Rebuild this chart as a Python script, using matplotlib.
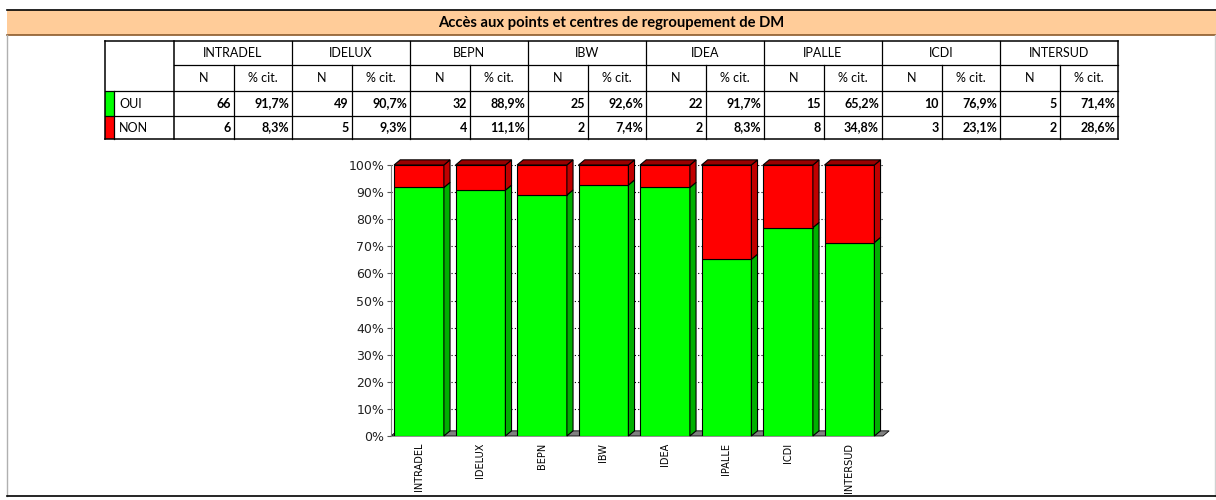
import matplotlib
matplotlib.use("Agg")
import matplotlib.pyplot as plt
from matplotlib.patches import Rectangle, Polygon

# donnees du tableau
categories = ["INTRADEL", "IDELUX", "BEPN", "IBW", "IDEA", "IPALLE", "ICDI", "INTERSUD"]
oui_n = [66, 49, 32, 25, 22, 15, 10, 5]
non_n = [6, 5, 4, 2, 2, 8, 3, 2]
oui_pct = [91.7, 90.7, 88.9, 92.6, 91.7, 65.2, 76.9, 71.4]
non_pct = [8.3, 9.3, 11.1, 7.4, 8.3, 34.8, 23.1, 28.6]
titre = "Accès aux points et centres de regroupement de DM"

W, H = 1216, 500
fig = plt.figure(figsize=(W / 100, H / 100), dpi=100)
fig.patch.set_facecolor("white")

# fond en coordonnees pixels
bg = fig.add_axes([0, 0, 1, 1])
bg.set_xlim(0, W)
bg.set_ylim(H, 0)
bg.axis("off")

# bandeau du titre
bg.add_patch(Rectangle((7, 9.5), W - 7, 25.5, facecolor="#FFCC99", edgecolor="none"))
bg.plot([7, W], [9.5, 9.5], color="black", lw=1.2)
bg.plot([7, W], [35, 35], color="#8B5A2B", lw=1.2)
bg.text((7 + W) / 2, 22.5, titre, ha="center", va="center", fontsize=10.6,
        fontweight="bold", family="Lato")

# cadre
bg.plot([7, 7], [35, 496], color="#B0B0B0", lw=1)
bg.plot([1215, 1215], [35, 496], color="#D0D0D0", lw=1)
bg.plot([7, W], [496, 496], color="black", lw=1.2)

# tableau
tx0, lab_w, grp_w = 105, 69, 118
rows_y = [41, 65, 91, 116, 139]
n_w = 60
tx1 = tx0 + lab_w + grp_w * len(categories)
lc = "black"

# lignes horizontales
bg.plot([tx0, tx1], [rows_y[0], rows_y[0]], color=lc, lw=1.1)
bg.plot([tx0 + lab_w, tx1], [rows_y[1], rows_y[1]], color=lc, lw=0.9)
for yy in rows_y[2:4]:
    bg.plot([tx0, tx1], [yy, yy], color=lc, lw=0.9)
bg.plot([tx0, tx1], [rows_y[4], rows_y[4]], color=lc, lw=1.1)
# lignes verticales
bg.plot([tx0, tx0], [rows_y[0], rows_y[4]], color=lc, lw=1.1)
for k in range(len(categories) + 1):
    xx = tx0 + lab_w + k * grp_w
    bg.plot([xx, xx], [rows_y[0], rows_y[4]], color=lc, lw=1.1 if k in (0, len(categories)) else 0.9)
    if k < len(categories):
        bg.plot([xx + n_w, xx + n_w], [rows_y[1], rows_y[4]], color=lc, lw=0.9)

# pastilles couleur
bg.add_patch(Rectangle((tx0, rows_y[2]), 9, rows_y[3] - rows_y[2], facecolor="#00FF00", edgecolor="none"))
bg.add_patch(Rectangle((tx0, rows_y[3]), 9, rows_y[4] - rows_y[3], facecolor="#FF0000", edgecolor="none"))
bg.plot([tx0 + 9, tx0 + 9], [rows_y[2], rows_y[4]], color=lc, lw=0.9)

fs = 9
bg.text(tx0 + 14, (rows_y[2] + rows_y[3]) / 2, "OUI", va="center", fontsize=fs, family="Lato")
bg.text(tx0 + 14, (rows_y[3] + rows_y[4]) / 2, "NON", va="center", fontsize=fs, family="Lato")

for k, cat in enumerate(categories):
    gx = tx0 + lab_w + k * grp_w
    bg.text(gx + grp_w / 2, (rows_y[0] + rows_y[1]) / 2, cat, ha="center", va="center",
            fontsize=fs, family="Lato")
    bg.text(gx + n_w / 2, (rows_y[1] + rows_y[2]) / 2, "N", ha="center", va="center",
            fontsize=fs, family="Lato")
    bg.text(gx + n_w + (grp_w - n_w) / 2, (rows_y[1] + rows_y[2]) / 2, "% cit.", ha="center",
            va="center", fontsize=fs, family="Lato")
    for r, (nv, pv) in enumerate([(oui_n[k], oui_pct[k]), (non_n[k], non_pct[k])]):
        yc = (rows_y[2 + r] + rows_y[3 + r]) / 2
        bg.text(gx + n_w - 3, yc, str(nv), ha="right", va="center", fontsize=fs,
                fontweight="bold", family="Lato")
        bg.text(gx + grp_w - 3, yc, f"{pv:.1f}%".replace(".", ","), ha="right", va="center",
                fontsize=fs, fontweight="bold", family="Lato")

# graphique empile en pseudo 3D
ax = fig.add_axes([391 / W, (H - 436) / H, 492 / W, 271 / H])
ax.set_facecolor("none")
ax.set_xlim(-0.5, len(categories) - 0.5)
ax.set_ylim(0, 100)

dx, dy = 0.10, 1.9
bw = 0.81
for yv in range(10, 101, 10):
    ax.plot([-0.5, len(categories) - 0.5 + dx], [yv, yv], color="black", lw=0.8,
            linestyle=(0, (1, 2)), zorder=1)

# sol
ax.add_patch(Polygon([(-0.5, 0), (len(categories) - 0.5, 0),
                      (len(categories) - 0.5 + dx, dy), (-0.5 + dx, dy)],
                     closed=True, facecolor="#808080", edgecolor="black", lw=0.6,
                     zorder=2, clip_on=False))

for i in range(len(categories)):
    x0 = i - 0.45
    o, n = oui_pct[i], non_pct[i]
    top = o + n
    ax.add_patch(Rectangle((x0, 0), bw, o, facecolor="#00FF00", edgecolor="black", lw=0.8,
                           zorder=3))
    ax.add_patch(Polygon([(x0 + bw, 0), (x0 + bw + dx, dy), (x0 + bw + dx, o + dy), (x0 + bw, o)],
                         closed=True, facecolor="#00B000", edgecolor="black", lw=0.8, zorder=3,
                         clip_on=False))
    ax.add_patch(Rectangle((x0, o), bw, n, facecolor="#FF0000", edgecolor="black", lw=0.8,
                           zorder=3))
    ax.add_patch(Polygon([(x0 + bw, o), (x0 + bw + dx, o + dy), (x0 + bw + dx, top + dy),
                          (x0 + bw, top)],
                         closed=True, facecolor="#C00000", edgecolor="black", lw=0.8, zorder=3,
                         clip_on=False))
    ax.add_patch(Polygon([(x0, top), (x0 + dx, top + dy), (x0 + bw + dx, top + dy), (x0 + bw, top)],
                         closed=True, facecolor="#9A0000", edgecolor="black", lw=0.8, zorder=3,
                         clip_on=False))

for s in ["top", "right", "bottom"]:
    ax.spines[s].set_visible(False)
ax.spines["left"].set_color("#808080")
ax.spines["left"].set_linewidth(0.8)

ax.set_yticks(range(0, 101, 10))
ax.set_yticklabels([f"{v}%" for v in range(0, 101, 10)], fontsize=9, color="#222222")
ax.tick_params(axis="y", length=3, width=0.8, color="#555555", pad=2)
ax.set_xticks([i - 0.045 for i in range(len(categories))])
ax.set_xticklabels(categories, rotation=90, fontsize=7)
ax.tick_params(axis="x", length=0, pad=5)

fig.savefig("out.png", dpi=100)
